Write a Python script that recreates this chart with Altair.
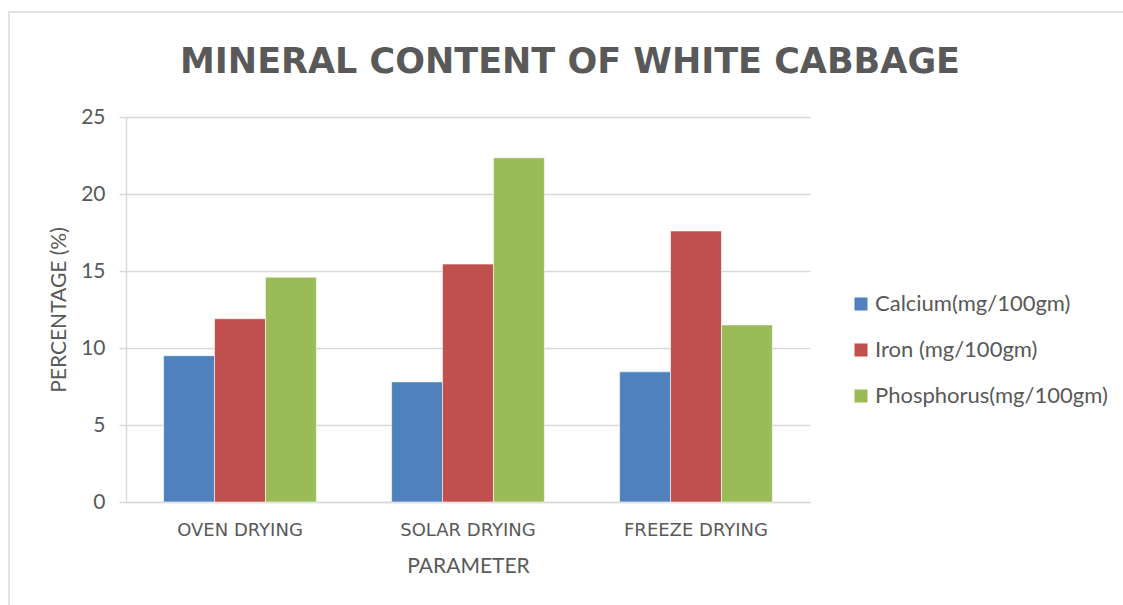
import altair as alt
import pandas as pd

methods = ["OVEN DRYING", "SOLAR DRYING", "FREEZE DRYING"]
series = ["Calcium(mg/100gm)", "Iron (mg/100gm)", "Phosphorus(mg/100gm)"]
calcium = [9.5, 7.8, 8.45]
iron = [11.9, 15.45, 17.6]
phosphorus = [14.6, 22.35, 11.5]
colors = ["#4F81BD", "#C0504D", "#9BBB59"]
y_ticks = [0, 5, 10, 15, 20, 25]

rows = []
for s, vals in zip(series, [calcium, iron, phosphorus]):
    for m, v in zip(methods, vals):
        rows.append({"method": m, "mineral": s, "value": v})
df = pd.DataFrame(rows)

FONT = "Lato"
GRAY = "#595959"
GRID = "#D9D9D9"

bars = alt.Chart(df).mark_bar(stroke="white", strokeWidth=0.8, strokeOpacity=0.7).encode(
    x=alt.X(
        "method:N", sort=methods,
        scale=alt.Scale(paddingInner=0.33, paddingOuter=0.165),
        axis=alt.Axis(
            title="PARAMETER", labelAngle=0, ticks=False, grid=False,
            domainColor=GRID, domainWidth=1.5,
            labelFont="DejaVu Sans", labelFontSize=18, labelColor=GRAY, labelPadding=19,
            titleFont=FONT, titleFontSize=21, titleFontWeight="normal", titleColor=GRAY,
            titlePadding=16,
        ),
    ),
    xOffset=alt.XOffset("mineral:N", sort=series, scale=alt.Scale(padding=0, paddingInner=0)),
    y=alt.Y(
        "value:Q",
        scale=alt.Scale(domain=[0, 25], nice=False),
        axis=alt.Axis(
            values=y_ticks, title="PERCENTAGE (%)",
            grid=True, gridColor=GRID, gridWidth=1.5,
            domainColor=GRID, domainWidth=1.5,
            tickColor=GRID, tickWidth=1.5, tickSize=7,
            labelFont=FONT, labelFontSize=21, labelColor=GRAY, labelPadding=14,
            titleFont=FONT, titleFontSize=21, titleFontWeight="normal", titleColor=GRAY,
            titlePadding=11,
        ),
    ),
    color=alt.Color(
        "mineral:N", sort=series,
        scale=alt.Scale(domain=series, range=colors),
        legend=alt.Legend(
            title=None, orient="none", legendX=724, legendY=176,
            symbolType="square", symbolSize=170, symbolStrokeWidth=0,
            labelFont=FONT, labelFontSize=22, labelColor=GRAY, labelLimit=400,
            rowPadding=24, labelOffset=3,
        ),
    ),
)

border = alt.Chart(pd.DataFrame({"a": [0]})).mark_rect(
    fill=None, stroke=GRID, strokeWidth=1.5
).encode(
    x=alt.value(-117), x2=alt.value(1000), y=alt.value(-105), y2=alt.value(495)
)

chart = alt.layer(border, bars).properties(
    width=684,
    height=385,
    background="white",
    autosize=alt.AutoSizeParams(type="none"),
    padding={"left": 126, "top": 117, "right": 313, "bottom": 103},
    title=alt.TitleParams(
        text="MINERAL CONTENT OF WHITE CABBAGE",
        font="DejaVu Sans", fontSize=35, fontWeight="bold", color=GRAY,
        anchor="middle", dx=102, offset=-97, baseline="alphabetic",
    ),
).configure_view(stroke=None)

chart.save("out.html", embed_options={"renderer": "svg", "actions": False})
